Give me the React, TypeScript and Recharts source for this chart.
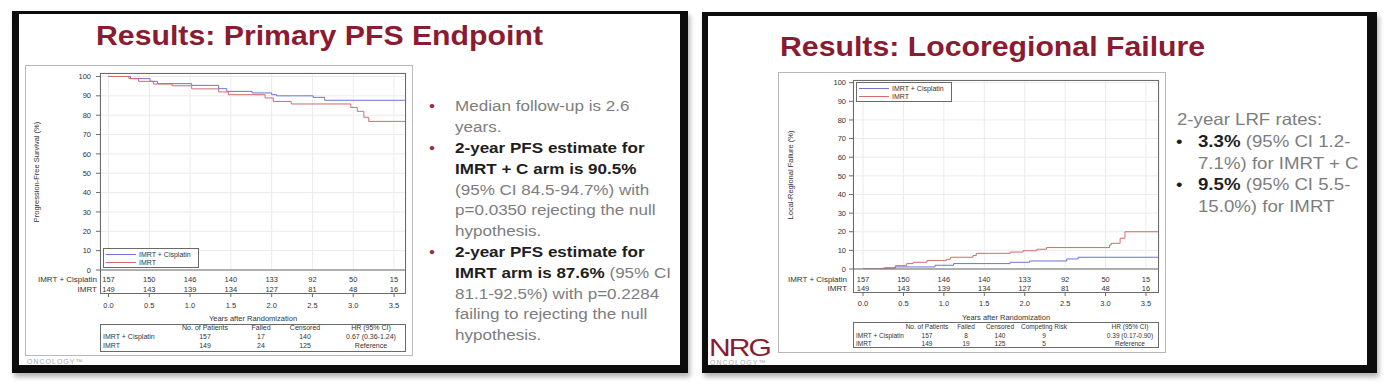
import React from 'react';
import { LineChart, Line, XAxis, YAxis, CartesianGrid, Legend } from 'recharts';

const FONT = 'Arial, "Liberation Sans", Helvetica, sans-serif';
const BLUE = '#6e72d6';
const RED = '#d46b6b';
const MAROON = '#8a1b30';
const FRAME = '#6a6a6a';
const GRID = '#ebebeb';
const GRAY_TEXT = '#7d7d7d';
const DARK_TEXT = '#1e1e1e';

const armNames = ['IMRT + Cisplatin', 'IMRT'];
const yearTicks = [0, 0.5, 1, 1.5, 2, 2.5, 3, 3.5];
const pctTicks = [0, 10, 20, 30, 40, 50, 60, 70, 80, 90, 100];
const atRiskCis = [157, 150, 146, 140, 133, 92, 50, 15];
const atRiskImrt = [149, 143, 139, 134, 127, 81, 48, 16];

// progression-free survival
const pfsCisTime = [0, 0.27, 0.51, 0.6, 1.02, 1.35, 1.45, 1.76, 2.0, 2.06, 2.51, 2.65, 3.65];
const pfsCisValue = [100, 98.9, 97.5, 96.3, 95.4, 93.7, 92.3, 91.5, 90.6, 90.0, 89.2, 87.7, 87.7];
const pfsImrtTime = [0, 0.25, 0.37, 0.55, 0.78, 1.02, 1.35, 1.47, 1.92, 2.02, 2.24, 2.97, 3.05, 3.13, 3.19, 3.65];
const pfsImrtValue = [100, 98.9, 97.5, 96.1, 95.2, 93.6, 92.0, 90.6, 88.9, 87.1, 85.8, 84.0, 82.0, 78.9, 76.8, 76.8];

// locoregional failure
const lrfCisTime = [0, 0.27, 0.4, 0.89, 1.12, 1.82, 2.06, 2.52, 2.66, 3.67];
const lrfCisValue = [0, 0.6, 1.1, 2.0, 2.9, 3.6, 4.3, 5.4, 6.3, 6.3];
const lrfImrtTime = [0, 0.25, 0.4, 0.54, 0.62, 0.79, 1.03, 1.08, 1.36, 1.4, 1.82, 1.98, 2.15, 2.27, 3.05, 3.07, 3.18, 3.24, 3.67];
const lrfImrtValue = [0, 0.5, 1.8, 2.9, 3.6, 4.5, 5.2, 6.3, 7.2, 8.4, 9.1, 9.8, 10.6, 11.5, 12.9, 13.8, 16.5, 20.0, 20.0];

const pfsTableHead = ['No. of Patients', 'Failed', 'Censored', 'HR (95% CI)'];
const pfsTableRows = [
  ['IMRT + Cisplatin', '157', '17', '140', '0.67 (0.36-1.24)'],
  ['IMRT', '149', '24', '125', 'Reference'],
];
const lrfTableHead = ['No. of Patients', 'Failed', 'Censored', 'Competing Risk', 'HR (95% CI)'];
const lrfTableRows = [
  ['IMRT + Cisplatin', '157', '8', '140', '9', '0.39 (0.17-0.90)'],
  ['IMRT', '149', '19', '125', '5', 'Reference'],
];

type Seg = [string, boolean];
const pfsNotes: Seg[][] = [
  [['Median follow-up is 2.6', false]],
  [['years.', false]],
  [['2-year PFS estimate for', true]],
  [['IMRT + C arm is 90.5%', true]],
  [['(95% CI 84.5-94.7%) with', false]],
  [['p=0.0350 rejecting the null', false]],
  [['hypothesis.', false]],
  [['2-year PFS estimate for', true]],
  [['IMRT arm is 87.6%', true], [' (95% CI', false]],
  [['81.1-92.5%) with p=0.2284', false]],
  [['failing to rejecting the null', false]],
  [['hypothesis.', false]],
];
const pfsBullets = [0, 2, 7];
const lrfNotes: Seg[][] = [
  [['2-year LRF rates:', false]],
  [['3.3%', true], [' (95% CI 1.2-', false]],
  [['7.1%) for IMRT + C', false]],
  [['9.5%', true], [' (95% CI 5.5-', false]],
  [['15.0%) for IMRT', false]],
];
const lrfBullets = [1, 3];

const toPoints = (t: number[], v: number[]) => t.map((x, i) => ({ t: x, v: v[i] }));

type Plot = { left: number; top: number; right: number; bottom: number };

function LegendBox({ payload }: any) {
  const items = [...(payload || [])].sort((a: any, b: any) => armNames.indexOf(a.value) - armNames.indexOf(b.value));
  return (
    <div style={{ border: `1px solid ${FRAME}`, background: '#fff', width: 92, padding: '1px 0 1px 2px', fontFamily: FONT }}>
      {items.map((item: any) => (
        <div key={item.value} style={{ display: 'flex', alignItems: 'center', height: 8 }}>
          <span style={{ display: 'inline-block', width: 30, borderTop: `1px solid ${item.color}`, marginRight: 3 }} />
          <span style={{ fontSize: 7, color: '#333', whiteSpace: 'nowrap' }}>{item.value}</span>
        </div>
      ))}
    </div>
  );
}

function KMChart(props: {
  plot: Plot;
  svgLeft: number;
  svgTop: number;
  xDomain: [number, number];
  yDomain: [number, number];
  cis: { t: number; v: number }[];
  imrt: { t: number; v: number }[];
  rows: number[];
  labelGap: number;
  yTickMargin: number;
  legendAt: { left: number; top: number };
}) {
  const { plot, svgLeft, svgTop, rows, labelGap } = props;
  const width = 400;
  const axisH = 45;
  const yAxisW = 30;
  const height = plot.bottom + axisH - svgTop;
  const margin = {
    top: plot.top - svgTop,
    right: svgLeft + width - plot.right,
    bottom: 0,
    left: plot.left - svgLeft - yAxisW,
  };
  const txt = { fontSize: 7.5, fill: '#333', fontFamily: FONT };

  const riskTick = (p: any) => {
    const i = yearTicks.indexOf(p.payload.value);
    return (
      <g>
        {i === 0 &&
          armNames.map((n, k) => (
            <text key={n} x={p.x - labelGap} y={p.y + rows[k]} textAnchor="end" dominantBaseline="central" {...txt} fontSize={8}>
              {n}
            </text>
          ))}
        <text x={p.x} y={p.y + rows[0]} textAnchor="middle" dominantBaseline="central" {...txt}>
          {atRiskCis[i]}
        </text>
        <text x={p.x} y={p.y + rows[1]} textAnchor="middle" dominantBaseline="central" {...txt}>
          {atRiskImrt[i]}
        </text>
        <line x1={p.x} x2={p.x} y1={p.y + rows[2]} y2={p.y + rows[2] + 3} stroke={FRAME} />
        <text x={p.x} y={p.y + rows[3]} textAnchor="middle" dominantBaseline="central" {...txt}>
          {Number(p.payload.value).toFixed(1)}
        </text>
      </g>
    );
  };

  return (
    <div style={{ position: 'absolute', left: svgLeft, top: svgTop }}>
      <LineChart width={width} height={height} margin={margin}>
        <CartesianGrid stroke={GRID} />
        <XAxis
          type="number"
          dataKey="t"
          domain={props.xDomain}
          ticks={yearTicks}
          interval={0}
          allowDataOverflow
          height={axisH}
          tickSize={0}
          tickMargin={0}
          tickLine={false}
          axisLine={{ stroke: FRAME }}
          tick={riskTick}
        />
        <YAxis
          type="number"
          domain={props.yDomain}
          ticks={pctTicks}
          interval={0}
          allowDataOverflow
          width={yAxisW}
          tickSize={4}
          tickMargin={props.yTickMargin}
          axisLine={false}
          tickLine={{ stroke: FRAME }}
          tick={txt}
        />
        <Legend
          layout="horizontal"
          verticalAlign="middle"
          align="center"
          content={<LegendBox />}
          wrapperStyle={{ left: props.legendAt.left, top: props.legendAt.top, width: 'auto', right: 'auto', bottom: 'auto' }}
        />
        <Line data={props.cis} dataKey="v" name="IMRT + Cisplatin" type="stepAfter" stroke={BLUE} strokeWidth={1} dot={false} isAnimationActive={false} />
        <Line data={props.imrt} dataKey="v" name="IMRT" type="stepAfter" stroke={RED} strokeWidth={1} dot={false} isAnimationActive={false} />
      </LineChart>
    </div>
  );
}

function Abs({ style, children }: { style: React.CSSProperties; children?: React.ReactNode }) {
  return <div style={{ position: 'absolute', boxSizing: 'border-box', ...style }}>{children}</div>;
}

function TextLine({ x, cy, size, lh, scale, children, color, bold }: any) {
  return (
    <div
      style={{
        position: 'absolute',
        left: x,
        top: cy - lh / 2,
        height: lh,
        lineHeight: `${lh}px`,
        fontSize: size,
        whiteSpace: 'nowrap',
        transform: `scaleX(${scale})`,
        transformOrigin: 'left center',
        color: color,
        fontWeight: bold ? 700 : 400,
      }}
    >
      {children}
    </div>
  );
}

function Notes({ lines, x, cy0, step, size, scale }: { lines: Seg[][]; x: (i: number) => number; cy0: number; step: number; size: number; scale: number }) {
  return (
    <>
      {lines.map((segs, i) => (
        <TextLine key={i} x={x(i)} cy={cy0 + i * step} size={size} lh={step} scale={scale}>
          {segs.map(([s, b], k) => (
            <span key={k} style={{ fontWeight: b ? 700 : 400, color: b ? DARK_TEXT : GRAY_TEXT }}>
              {s}
            </span>
          ))}
        </TextLine>
      ))}
    </>
  );
}

function SummaryTable({ box, cols, labelX, rowsY, head, rows, size }: any) {
  const t: React.CSSProperties = { position: 'absolute', fontSize: size, color: '#333', whiteSpace: 'nowrap', lineHeight: '8px' };
  return (
    <>
      <Abs style={{ left: box.left, top: box.top, width: box.right - box.left, height: box.bottom - box.top, border: `1px solid ${FRAME}` }} />
      {head.map((h: string, j: number) => (
        <div key={h} style={{ ...t, left: cols[j], top: rowsY[0] - 4, transform: 'translateX(-50%)' }}>{h}</div>
      ))}
      {rows.map((r: string[], i: number) => (
        <React.Fragment key={i}>
          <div style={{ ...t, left: labelX, top: rowsY[i + 1] - 4 }}>{r[0]}</div>
          {r.slice(1).map((c, j) => (
            <div key={j} style={{ ...t, left: cols[j], top: rowsY[i + 1] - 4, transform: 'translateX(-50%)' }}>{c}</div>
          ))}
        </React.Fragment>
      ))}
    </>
  );
}

function RotLabel({ cx, cy, text }: { cx: number; cy: number; text: string }) {
  return (
    <div style={{ position: 'absolute', left: cx, top: cy, transform: 'translate(-50%, -50%) rotate(-90deg)', fontSize: 7.5, color: '#333', whiteSpace: 'nowrap' }}>
      {text}
    </div>
  );
}

function CenterLabel({ cx, cy, text }: { cx: number; cy: number; text: string }) {
  return (
    <div style={{ position: 'absolute', left: cx, top: cy, transform: 'translate(-50%, -50%)', fontSize: 7.5, color: '#333', whiteSpace: 'nowrap' }}>
      {text}
    </div>
  );
}

export default function App() {
  const pfsPlot = { left: 100, top: 73, right: 406, bottom: 270 };
  const lrfPlot = { left: 853, top: 80, right: 1159, bottom: 269 };
  return (
    <div style={{ position: 'absolute', left: 0, top: 0, width: 1388, height: 385, background: '#fff', overflow: 'hidden', fontFamily: FONT }}>
      {/* left slide */}
      <Abs style={{ left: 12, top: 11, width: 676, height: 362, background: '#fff', borderStyle: 'solid', borderColor: '#0c0c0c', borderWidth: '3px 8px 8px 7px', boxShadow: '2px 4px 5px rgba(0,0,0,0.3)' }} />
      <TextLine x={96} cy={36} size={27} lh={27} scale={1.12} color={MAROON} bold>
        Results: Primary PFS Endpoint
      </TextLine>
      <Abs style={{ left: 27, top: 358, fontSize: 7, lineHeight: '7px', color: '#aaa', letterSpacing: 1 }}>ONCOLOGY™</Abs>
      <Abs style={{ left: 25, top: 65, width: 388, height: 291, border: '1px solid #b8b8b8', background: '#fff' }} />
      <KMChart
        plot={pfsPlot}
        svgLeft={20}
        svgTop={60}
        xDomain={[-0.104, 3.647]}
        yDomain={[0, 101.8]}
        cis={toPoints(pfsCisTime, pfsCisValue)}
        imrt={toPoints(pfsImrtTime, pfsImrtValue)}
        rows={[9, 19, 24, 35]}
        labelGap={11.5}
        yTickMargin={5}
        legendAt={{ left: 83, top: 188 }}
      />
      <Abs style={{ left: 100, top: 73, width: 306, height: 221, border: `1px solid ${FRAME}`, pointerEvents: 'none' }} />
      <RotLabel cx={36} cy={172} text="Progression-Free Survival (%)" />
      <CenterLabel cx={253} cy={318} text="Years after Randomization" />
      <SummaryTable
        box={{ left: 100, top: 324, right: 406, bottom: 352 }}
        cols={[205, 261, 305, 371]}
        labelX={103}
        rowsY={[328.3, 337.3, 346]}
        head={pfsTableHead}
        rows={pfsTableRows}
        size={7}
      />
      {pfsBullets.map((i) => (
        <TextLine key={i} x={429} cy={106.7 + i * 20.8} size={15.5} lh={20.8} scale={1.1} color="#9b2f45">
          •
        </TextLine>
      ))}
      <Notes lines={pfsNotes} x={() => 455} cy0={106.7} step={20.8} size={15.5} scale={1.1} />

      {/* right slide */}
      <Abs style={{ left: 702, top: 12, width: 675, height: 361, background: '#fff', borderStyle: 'solid', borderColor: '#0c0c0c', borderWidth: '4px 10px 8px 6px', boxShadow: '2px 4px 5px rgba(0,0,0,0.3)' }} />
      <TextLine x={780} cy={47.5} size={27} lh={27} scale={1.12} color={MAROON} bold>
        Results: Locoregional Failure
      </TextLine>
      <Abs style={{ left: 709, top: 337, fontSize: 24, lineHeight: '22px', color: MAROON, letterSpacing: -1.5, transform: 'scaleX(1.25)', transformOrigin: 'left top' }}>NRG</Abs>
      <Abs style={{ left: 710, top: 359, fontSize: 7, lineHeight: '7px', color: '#aaa', letterSpacing: 1 }}>ONCOLOGY™</Abs>
      <Abs style={{ left: 778, top: 72, width: 388, height: 281, border: '1px solid #b8b8b8', background: '#fff' }} />
      <KMChart
        plot={lrfPlot}
        svgLeft={770}
        svgTop={70}
        xDomain={[-0.124, 3.661]}
        yDomain={[0, 101.45]}
        cis={toPoints(lrfCisTime, lrfCisValue)}
        imrt={toPoints(lrfImrtTime, lrfImrtValue)}
        rows={[10, 19, 24, 34]}
        labelGap={16}
        yTickMargin={3}
        legendAt={{ left: 86, top: 12 }}
      />
      <Abs style={{ left: 853, top: 80, width: 306, height: 213, border: `1px solid ${FRAME}`, pointerEvents: 'none' }} />
      <RotLabel cx={790} cy={175} text="Local-Regional Failure (%)" />
      <CenterLabel cx={1006} cy={317} text="Years after Randomization" />
      <SummaryTable
        box={{ left: 853, top: 322, right: 1159, bottom: 348 }}
        cols={[927, 966, 1000, 1044, 1130]}
        labelX={856}
        rowsY={[326.5, 335.5, 343.5]}
        head={lrfTableHead}
        rows={lrfTableRows}
        size={6.5}
      />
      {lrfBullets.map((i) => (
        <TextLine key={i} x={1176} cy={120 + i * 21.7} size={16.5} lh={21.7} scale={1.13} color={DARK_TEXT}>
          •
        </TextLine>
      ))}
      <Notes lines={lrfNotes} x={(i) => (i === 0 ? 1177 : 1198)} cy0={120} step={21.7} size={16.5} scale={1.13} />
    </div>
  );
}
